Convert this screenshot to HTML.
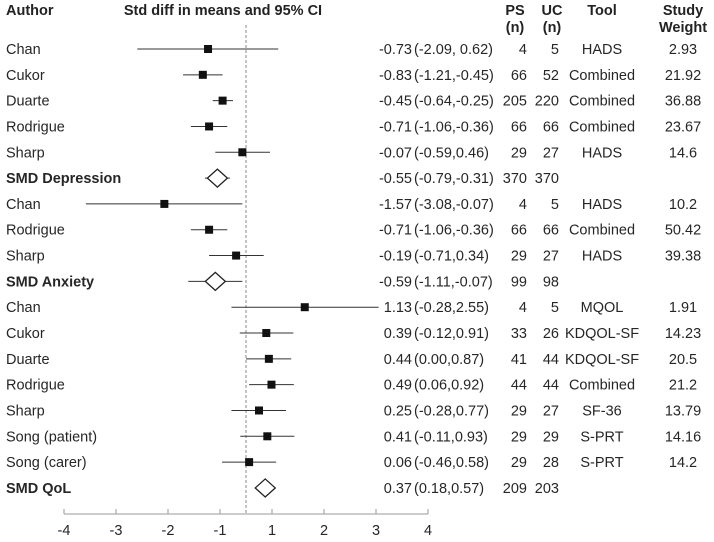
<!DOCTYPE html>
<html><head><meta charset="utf-8"><style>
html,body{margin:0;padding:0;background:#fff;}
svg{display:block;font-family:"Liberation Sans",Arial,sans-serif;}
</style></head><body>
<svg id="chart" width="714" height="542" viewBox="0 0 714 542" xmlns="http://www.w3.org/2000/svg">
<g font-size="14.5" font-weight="bold" fill="#222">
<text x="6" y="15">Author</text>
<text x="223" y="15" text-anchor="middle">Std diff in means and 95% CI</text>
<text x="515" y="15" text-anchor="middle">PS</text>
<text x="515" y="32" text-anchor="middle">(n)</text>
<text x="552" y="15" text-anchor="middle">UC</text>
<text x="552" y="32" text-anchor="middle">(n)</text>
<text x="602" y="15" text-anchor="middle">Tool</text>
<text x="683" y="15" text-anchor="middle">Study</text>
<text x="683" y="32" text-anchor="middle">Weight</text>
</g>
<g id="plot"></g>
</svg>
<script>
const authors=["Chan","Cukor","Duarte","Rodrigue","Sharp","SMD Depression","Chan","Rodrigue","Sharp","SMD Anxiety","Chan","Cukor","Duarte","Rodrigue","Sharp","Song (patient)","Song (carer)","SMD QoL"];
const isSummary=[0,0,0,0,0,1,0,0,0,1,0,0,0,0,0,0,0,1];
const estimates=[-0.73,-0.83,-0.45,-0.71,-0.07,-0.55,-1.57,-0.71,-0.19,-0.59,1.13,0.39,0.44,0.49,0.25,0.41,0.06,0.37];
const lowers=[-2.09,-1.21,-0.64,-1.06,-0.59,-0.79,-3.08,-1.06,-0.71,-1.11,-0.28,-0.12,0.00,0.06,-0.28,-0.11,-0.46,0.18];
const uppers=[0.62,-0.45,-0.25,-0.36,0.46,-0.31,-0.07,-0.36,0.34,-0.07,2.55,0.91,0.87,0.92,0.77,0.93,0.58,0.57];
const ciTexts=["(-2.09, 0.62)","(-1.21,-0.45)","(-0.64,-0.25)","(-1.06,-0.36)","(-0.59,0.46)","(-0.79,-0.31)","(-3.08,-0.07)","(-1.06,-0.36)","(-0.71,0.34)","(-1.11,-0.07)","(-0.28,2.55)","(-0.12,0.91)","(0.00,0.87)","(0.06,0.92)","(-0.28,0.77)","(-0.11,0.93)","(-0.46,0.58)","(0.18,0.57)"];
const psN=["4","66","205","66","29","370","4","66","29","99","4","33","41","44","29","29","29","209"];
const ucN=["5","52","220","66","27","370","5","66","27","98","5","26","44","44","27","29","28","203"];
const tools=["HADS","Combined","Combined","Combined","HADS","","HADS","Combined","HADS","","MQOL","KDQOL-SF","KDQOL-SF","Combined","SF-36","S-PRT","S-PRT",""];
const weights=["2.93","21.92","36.88","23.67","14.6","","10.2","50.42","39.38","","1.91","14.23","20.5","21.2","13.79","14.16","14.2",""];
const tickLabels=["-4","-3","-2","-1","1","2","3","4"];

const NS="http://www.w3.org/2000/svg";
const g=document.getElementById('plot');
const xs=v=>246+52*v;
const ys=i=>49+i*25.82;
const axisY=514;
function mk(tag,attrs,parent){const e=document.createElementNS(NS,tag);for(const k in attrs)e.setAttribute(k,attrs[k]);(parent||g).appendChild(e);return e;}
function txt(s,attrs){const e=mk('text',Object.assign({'font-size':14.5,fill:'#262626'},attrs));e.textContent=s;return e;}

const zl=mk('line',{x1:xs(0),x2:xs(0),y1:25,y2:axisY,stroke:'#888','stroke-dasharray':'3,2','stroke-width':1});



const ax=mk('line',{x1:64,x2:64+52*(tickLabels.length-1),y1:axisY,y2:axisY,stroke:'#999','stroke-width':1});


tickLabels.forEach((t,i)=>{
  const tx=64+52*i;
  const tk=mk('line',{x1:tx,x2:tx,y1:axisY-5,y2:axisY,stroke:'#999'});
  
  
  const tl=txt(t,{x:tx,y:535,'text-anchor':'middle'});
  
  
});

authors.forEach((a,i)=>{
  const y=ys(i);
  const bold=isSummary[i]?'bold':'normal';
  const al=txt(a,{x:6,y:y+5,'font-weight':bold});
  
  
  const l=mk('line',{x1:xs(lowers[i]),x2:xs(uppers[i]),y1:y,y2:y,stroke:'#333','stroke-width':1});
  
  
  if(isSummary[i]){
    const xe=xs(estimates[i]);
    const d=mk('polygon',{points:`${xe-10},${y} ${xe},${y-9} ${xe+10},${y} ${xe},${y+9}`,fill:'#fff',stroke:'#222','stroke-width':1.3});
    
    
  } else {
    const s=8;
    const r=mk('rect',{x:xs(estimates[i])-s/2,y:y-s/2,width:s,height:s,fill:'#111'});
    
    
  }
  const et=txt(estimates[i].toFixed(2),{x:412,y:y+5,'text-anchor':'end'});
  
  
  const ct=txt(ciTexts[i],{x:414,y:y+5});
  
  
  const pt=txt(psN[i],{x:527,y:y+5,'text-anchor':'end'});
  
  
  const ut=txt(ucN[i],{x:559,y:y+5,'text-anchor':'end'});
  
  
  const tt=txt(tools[i],{x:602,y:y+5,'text-anchor':'middle'});
  
  
  const wt=txt(weights[i],{x:683,y:y+5,'text-anchor':'middle'});
  
  
});
</script>
</body></html>
